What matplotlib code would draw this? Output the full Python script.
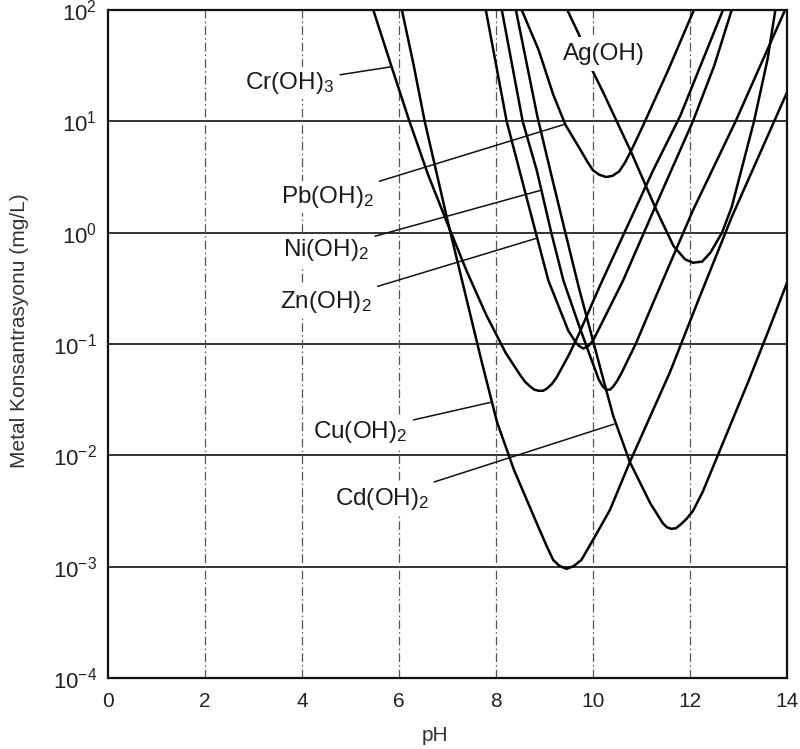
import numpy as np
import matplotlib
matplotlib.use("Agg")
import matplotlib.pyplot as plt
from matplotlib.ticker import FixedLocator, FixedFormatter, NullLocator

plt.rcParams['font.family'] = ['Liberation Sans', 'DejaVu Sans']
plt.rcParams['mathtext.default'] = 'regular'

# ---- data: pH and log10(concentration, mg/L) ----
cr_ph  = [5.47, 5.84, 6.20, 6.60, 7.00, 7.40, 7.80, 8.20, 8.50, 8.60, 8.70, 8.79, 8.88, 8.97, 9.05, 9.15, 9.25, 9.50, 9.70, 10.15, 11.24, 11.80, 12.68]
cr_log = [2.00, 1.50, 1.02, 0.52, 0.08, -0.35, -0.74, -1.08, -1.28, -1.34, -1.38, -1.41, -1.42, -1.42, -1.40, -1.36, -1.30, -1.10, -0.92, -0.47, 0.56, 1.05, 2.00]

ni_ph  = [8.12, 8.55, 8.84, 9.14, 9.39, 9.70, 9.95, 10.12, 10.20, 10.27, 10.35, 10.42, 10.50, 10.60, 10.89, 11.24, 12.06, 12.94, 13.50, 13.96]
ni_log = [2.00, 1.00, 0.56, 0.00, -0.43, -0.82, -1.12, -1.32, -1.38, -1.41, -1.41, -1.38, -1.33, -1.25, -0.99, -0.63, 0.20, 1.00, 1.55, 2.00]

zn_ph  = [7.79, 8.22, 8.82, 9.08, 9.49, 9.65, 9.72, 9.80, 9.90, 10.00, 10.31, 10.62, 11.34, 12.06, 12.50, 12.86]
zn_log = [2.00, 1.00, 0.00, -0.43, -0.88, -0.99, -1.02, -1.04, -1.02, -0.97, -0.70, -0.43, 0.29, 1.00, 1.50, 2.00]

ag_ph  = [9.47, 9.71, 9.96, 10.21, 10.78, 11.31, 11.66, 11.90, 12.06, 12.25, 12.42, 12.66, 12.86, 13.32, 13.60, 13.76]
ag_log = [2.00, 1.78, 1.48, 1.26, 0.73, 0.20, -0.12, -0.24, -0.27, -0.26, -0.18, 0.00, 0.23, 1.00, 1.56, 2.00]

pb_ph  = [8.53, 8.88, 9.18, 9.43, 9.76, 9.88, 10.00, 10.13, 10.27, 10.40, 10.54, 10.66, 10.78, 11.03, 11.55, 12.08]
pb_log = [2.00, 1.64, 1.24, 0.97, 0.73, 0.64, 0.56, 0.52, 0.50, 0.51, 0.55, 0.63, 0.73, 0.96, 1.46, 2.00]

cu_ph  = [6.06, 6.30, 6.53, 7.00, 7.70, 8.02, 8.37, 8.84, 9.05, 9.18, 9.30, 9.45, 9.60, 9.76, 10.00, 10.35, 10.76, 11.59, 12.16, 12.86, 14.00]
cu_log = [2.00, 1.51, 1.00, 0.11, -1.15, -1.70, -2.13, -2.61, -2.82, -2.94, -2.99, -3.02, -2.995, -2.94, -2.76, -2.49, -2.06, -1.25, -0.62, 0.14, 1.26]

cd_ph  = [8.41, 8.85, 9.14, 9.43, 9.70, 10.00, 10.22, 10.42, 10.76, 11.18, 11.44, 11.52, 11.61, 11.71, 11.81, 11.93, 12.06, 12.26, 13.20, 13.60, 14.00]
cd_log = [2.00, 1.05, 0.52, 0.00, -0.48, -0.97, -1.33, -1.65, -2.06, -2.43, -2.61, -2.645, -2.66, -2.655, -2.62, -2.57, -2.50, -2.33, -1.34, -0.90, -0.45]

x_ticks = [0, 2, 4, 6, 8, 10, 12, 14]
y_exps = [-4, -3, -2, -1, 0, 1, 2]
y_ticklabels = [r'$10^{%d}$' % e for e in y_exps]

# label: (text, text pH, text log10, leader pH, leader log10)
labels = [
    ('Cr(OH)$_3$', 3.75, 1.348, 5.84, 1.49),
    ('Pb(OH)$_2$', 4.52, 0.318, 9.39, 0.97),
    ('Ni(OH)$_2$', 4.50, -0.153, 8.92, 0.38),
    ('Zn(OH)$_2$', 4.50, -0.622, 8.84, -0.05),
    ('Cu(OH)$_2$', 5.21, -1.79, 7.93, -1.52),
    ('Cd(OH)$_2$', 5.65, -2.39, 10.43, -1.72),
]
ag_label = ('Ag(OH)', 10.23, 1.607)

# ---- figure ----
fig = plt.figure(figsize=(8.0, 7.49), dpi=100)
ax = fig.add_axes([108/800, 1-678/749, (787-108)/800, (678-10)/749])
ax.set_yscale('log')
ax.set_xlim(0, 14)
ax.set_ylim(1e-4, 1e2)

# grid
for e in y_exps[1:-1]:
    ax.axhline(10.0**e, color='#111111', lw=1.2, zorder=1)
for xv in x_ticks[1:-1]:
    ax.axvline(xv, color='#555555', lw=0.9, dashes=(7, 2.5, 1.2, 2.5), zorder=1)

curves = [(cr_ph, cr_log), (ni_ph, ni_log), (zn_ph, zn_log), (ag_ph, ag_log),
          (pb_ph, pb_log), (cu_ph, cu_log), (cd_ph, cd_log)]
for ph, lg in curves:
    ax.plot(ph, np.power(10.0, lg), color='black', lw=1.8, zorder=2,
            solid_joinstyle='round', solid_capstyle='butt')

fs_lab = 17.5
for txt, tx, ty, lx, ly in labels:
    ax.annotate(txt, xy=(lx, 10.0**ly), xytext=(tx, 10.0**ty),
                ha='center', va='center', fontsize=fs_lab, color='#1a1a1a',
                bbox=dict(boxstyle='square,pad=0.12', fc='white', ec='none'),
                arrowprops=dict(arrowstyle='-', color='#111111', lw=1.1,
                                shrinkA=2, shrinkB=0),
                zorder=4)
ax.text(ag_label[1], 10.0**ag_label[2], ag_label[0], ha='center', va='center',
        fontsize=fs_lab, color='#1a1a1a',
        bbox=dict(boxstyle='square,pad=0.25', fc='white', ec='none'), zorder=4)

for sp in ax.spines.values():
    sp.set_linewidth(1.6)
    sp.set_color('#111111')

ax.xaxis.set_major_locator(FixedLocator(x_ticks))
ax.yaxis.set_major_locator(FixedLocator([10.0**e for e in y_exps]))
ax.yaxis.set_major_formatter(FixedFormatter(y_ticklabels))
ax.yaxis.set_minor_locator(NullLocator())
ax.tick_params(axis='both', length=0, colors='#222222')
ax.tick_params(axis='x', labelsize=15, pad=10)
ax.tick_params(axis='y', labelsize=16, pad=8)

ax.set_xlabel('pH', fontsize=15, color='#333333')
ax.set_ylabel('Metal Konsantrasyonu (mg/L)', fontsize=15, color='#333333')
ax.xaxis.set_label_coords(0.482, -0.072)
ax.yaxis.set_label_coords(-0.117, 0.52)

fig.savefig('out.png', dpi=100)
